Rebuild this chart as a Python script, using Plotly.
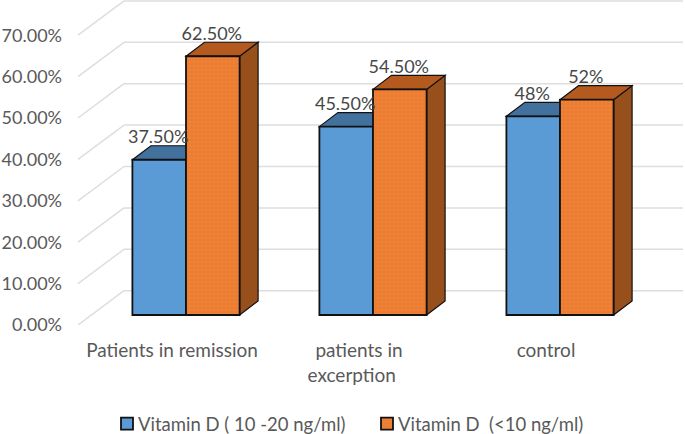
import plotly.graph_objects as go

# ---- data ----
categories = ["Patients in remission", "patients in<br>excerption\u00a0\u00a0\u00a0", "control"]
series_names = ["Vitamin D ( 10 -20 ng/ml)", "Vitamin D  (<10 ng/ml)"]
blue_values = [37.5, 45.5, 48]
orange_values = [62.5, 54.5, 52]
blue_labels = ["37.50%", "45.50%", "48%"]
orange_labels = ["62.50%", "54.50%", "52%"]
tick_values = [0, 10, 20, 30, 40, 50, 60, 70]
tick_labels = ["0.00%", "10.00%", "20.00%", "30.00%", "40.00%", "50.00%", "60.00%", "70.00%"]

# ---- pseudo-3D geometry (axis units) ----
W, H = 685, 434
LEFT, FLOOR_PX = 64, 325
PX_X, PX_Y = 187.0, 4.14          # pixels per x unit / per percent
X0_PX = 172                       # pixel of category 0 on the front plane
xrange_ = [(LEFT - X0_PX) / PX_X, (W - X0_PX) / PX_X]
yrange_ = [0, FLOOR_PX / PX_Y]
BAR_W = 53.6 / PX_X
BAR_DX, BAR_DY = 14 / PX_X, 10 / PX_Y     # bars stand a little behind the front plane
SIDE_DX, SIDE_DY = 18.5 / PX_X, 14 / PX_Y # bar depth
WALL_DX, WALL_DY = 46 / PX_X, 34.3 / PX_Y # floor depth
DIAG_X = (78 - X0_PX) / PX_X
GRID_END = (683 - X0_PX) / PX_X

BLUE, ORANGE = "#5B9BD5", "#ED7D31"
BLUE_TOP, ORANGE_TOP, ORANGE_SIDE = "#41719C", "#B55A1E", "#974F1C"
FONT = "Lato"
GREY = "#595959"

shapes = []
for t in tick_values:
    yb = t + WALL_DY
    shapes.append(dict(type="line", layer="below", xref="x", yref="y", x0=DIAG_X, y0=t,
                       x1=DIAG_X + WALL_DX, y1=yb, line=dict(color="#DEDEDE", width=1.5)))
    shapes.append(dict(type="line", layer="below", xref="x", yref="y", x0=DIAG_X + WALL_DX, y0=yb,
                       x1=GRID_END, y1=yb, line=dict(color="#DEDEDE", width=1.5)))


def poly(pts, fill):
    path = "M" + " L".join(f"{x:.4f},{y:.4f}" for x, y in pts) + " Z"
    shapes.append(dict(type="path", layer="below", xref="x", yref="y", path=path,
                       fillcolor=fill, line=dict(color="#111111", width=1.2)))


for i in range(len(categories)):
    cx = i + BAR_DX
    # blue depth faces
    t = BAR_DY + blue_values[i]
    poly([(cx - BAR_W, t), (cx - BAR_W + SIDE_DX, t + SIDE_DY), (cx + SIDE_DX, t + SIDE_DY), (cx, t)], BLUE_TOP)
    # orange depth faces
    t = BAR_DY + orange_values[i]
    r = cx + BAR_W
    poly([(r, BAR_DY), (r + SIDE_DX, BAR_DY + SIDE_DY), (r + SIDE_DX, t + SIDE_DY), (r, t)], ORANGE_SIDE)
    poly([(cx, t), (cx + SIDE_DX, t + SIDE_DY), (r + SIDE_DX, t + SIDE_DY), (r, t)], ORANGE_TOP)

xpos = [i + BAR_DX for i in range(len(categories))]
fig = go.Figure()
fig.add_bar(x=xpos, y=blue_values, base=[BAR_DY] * 3, width=BAR_W, offset=-BAR_W,
            name=series_names[0], marker=dict(color=BLUE, line=dict(color="#111111", width=1.8)))
fig.add_bar(x=xpos, y=orange_values, base=[BAR_DY] * 3, width=BAR_W, offset=0,
            name=series_names[1],
            marker=dict(color=ORANGE, line=dict(color="#111111", width=1.8),
                        pattern=dict(shape=".", fgcolor="#EFA378", bgcolor=ORANGE, size=4, solidity=0.08)))

LABEL_UP = 21 / PX_Y
lx = [x - BAR_W / 2 - 1 / PX_X for x in xpos] + [x + BAR_W / 2 - 1 / PX_X for x in xpos]
ly = [BAR_DY + v + LABEL_UP for v in blue_values] + [BAR_DY + v + LABEL_UP for v in orange_values]
fig.add_scatter(x=lx, y=ly, mode="text", text=blue_labels + orange_labels, showlegend=False,
                textposition="middle center", cliponaxis=False, hoverinfo="skip",
                textfont=dict(family=FONT, size=18, color="#474747"))

fig.update_layout(
    width=W, height=H, barmode="overlay", paper_bgcolor="white", plot_bgcolor="white",
    margin=dict(l=LEFT, r=0, t=0, b=H - FLOOR_PX, autoexpand=False),
    font=dict(family=FONT, size=19, color=GREY),
    shapes=shapes,
    legend=dict(orientation="h", x=(98 - LEFT) / (W - LEFT), xanchor="left",
                y=-(424 - FLOOR_PX) / FLOOR_PX, yanchor="middle", yref="paper",
                font=dict(family=FONT, size=18.5, color=GREY), entrywidth=215, entrywidthmode="pixels",
                itemclick=False, bgcolor="rgba(0,0,0,0)", traceorder="normal"),
    xaxis=dict(range=xrange_, tickmode="array", tickvals=list(range(3)), ticktext=categories,
               tickfont=dict(family=FONT, size=19, color=GREY),
               showgrid=False, zeroline=False, showline=False, ticks="", ticklabelstandoff=12),
    yaxis=dict(range=yrange_, tickmode="array", tickvals=tick_values, ticktext=tick_labels,
               tickfont=dict(family=FONT, size=18, color=GREY),
               showgrid=False, zeroline=False, showline=False, ticks="", ticklabelstandoff=1),
)
fig.write_html(
    "out.html",
    config={"displayModeBar": False},
    post_script=(
        "document.body.style.margin='0';document.body.style.overflow='hidden';"
        "document.querySelectorAll('.legendsymbols').forEach(function(e){"
        "e.setAttribute('transform','translate(9,0)');});"
    ),
)
